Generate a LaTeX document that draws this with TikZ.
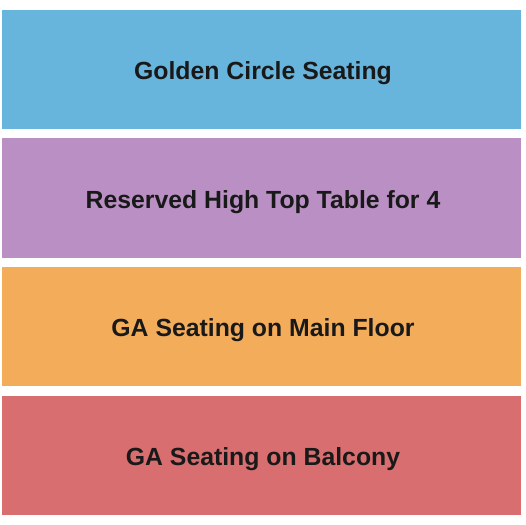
\documentclass[tikz,border=0pt]{standalone}
\usepackage{fontspec}
\setmainfont{Liberation Sans}
\definecolor{cblue}{HTML}{67B5DC}
\definecolor{cpurple}{HTML}{BA90C4}
\definecolor{corange}{HTML}{F3AD5A}
\definecolor{cred}{HTML}{D86E6F}
\tikzset{sect/.style={fill=#1,draw=none},
lab/.style={font=\bfseries\fontsize{24.8bp}{28bp}\selectfont,text=black!90}}
\begin{document}
\begin{tikzpicture}[x=1bp,y=-1bp]
\useasboundingbox (0,0) rectangle (525,525);
\fill[white] (0,0) rectangle (525,525);
\path[sect=cblue] (2,10) rectangle (521,129);
\path[sect=cpurple] (2,138.5) rectangle (521,257.5);
\path[sect=corange] (2,267) rectangle (521,386);
\path[sect=cred] (2,396) rectangle (521,515);
\node[lab] (a) at (263,73) {Golden Circle Seating};
\node[lab] (b) at (263,202) {Reserved High Top Table for 4};
\node[lab] (c) at (263,330) {GA Seating on Main Floor};
\node[lab] (d) at (263,459) {GA Seating on Balcony};
\end{tikzpicture}
\end{document}
